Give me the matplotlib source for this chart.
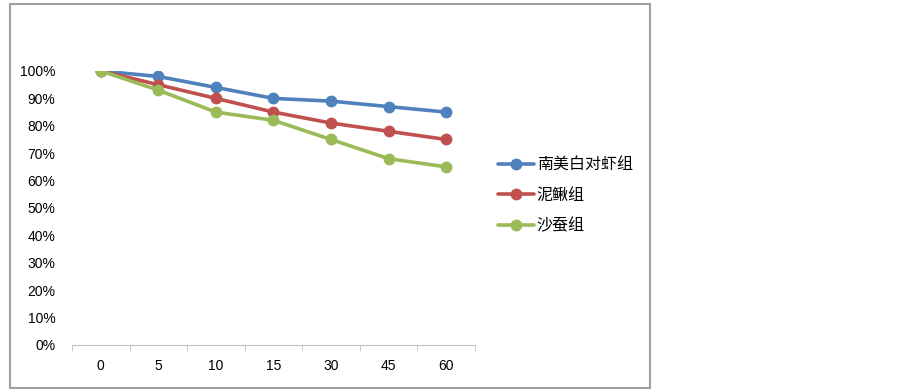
import matplotlib
matplotlib.use('Agg')
import matplotlib.pyplot as plt
from matplotlib.patches import Rectangle
from matplotlib.ticker import PercentFormatter, FixedLocator

plt.rcParams['font.family'] = ['Liberation Sans', 'Noto Sans CJK SC', 'DejaVu Sans']

days = ['0', '5', '10', '15', '30', '45', '60']
shrimp = [100, 98, 94, 90, 89, 87, 85]
loach = [100, 95, 90, 85, 81, 78, 75]
worm = [100, 93, 85, 82, 75, 68, 65]
names = ['南美白对虾组', '泥鳅组', '沙蚕组']
colors = ['#4F81BD', '#C0504D', '#9BBB59']

W, H = 903, 392
fig = plt.figure(figsize=(W / 100, H / 100), dpi=100)
ax = fig.add_axes([72 / W, (H - 345) / H, (475 - 72) / W, 274 / H])

x = range(len(days))
for vals, name, c in zip([shrimp, loach, worm], names, colors):
    ax.plot(x, [v / 100 for v in vals], color=c, lw=2.6, marker='o', ms=7.5,
            label=name, solid_capstyle='round')

ax.set_xlim(-0.5, len(days) - 0.5)
ax.set_ylim(0, 1)
ax.set_yticks([i / 10 for i in range(11)])
ax.yaxis.set_major_formatter(PercentFormatter(1.0, decimals=0))
ax.set_xticks(list(x))
ax.set_xticklabels(days)
ax.xaxis.set_minor_locator(FixedLocator([i - 0.5 for i in range(len(days) + 1)]))
ax.tick_params(axis='x', which='major', length=0, pad=10, labelsize=10)
ax.tick_params(axis='x', which='minor', length=4, color='#bfbfbf', direction='out')
ax.tick_params(axis='y', length=0, pad=12, labelsize=10)
for s in ['top', 'right', 'left']:
    ax.spines[s].set_visible(False)
ax.spines['bottom'].set_color('#bfbfbf')

fig.legend(loc='upper left', bbox_to_anchor=(492 / W, 1 - 151 / H), frameon=False,
           fontsize=11.5, handlelength=2.2, handletextpad=0.2, labelspacing=0.95,
           borderaxespad=0)

fig.patches.append(Rectangle((10 / W, 4 / H), 640 / W, 384 / H, transform=fig.transFigure,
                             fill=False, edgecolor='#a0a0a0', lw=1.5))

fig.savefig('out.png', dpi=100)
